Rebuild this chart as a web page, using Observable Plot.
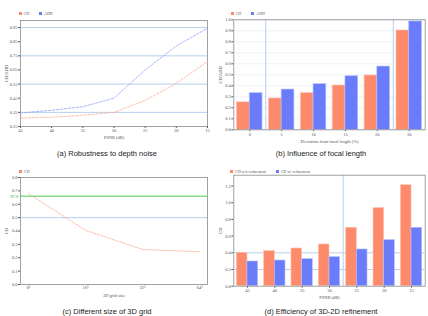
<!DOCTYPE html>
<html><head><meta charset="utf-8">
<script src="https://cdn.jsdelivr.net/npm/d3@7"></script>
<script src="https://cdn.jsdelivr.net/npm/@observablehq/plot@0.6"></script>
<style>
body{margin:0;background:#fff;}
#root{position:relative;width:428px;height:316px;overflow:hidden;background:#fff;}
.panel{position:absolute;width:214px;height:158px;}
.legend{position:absolute;display:flex;align-items:center;gap:10px;font-family:"Liberation Serif",serif;font-size:4px;color:#555;white-space:nowrap;line-height:5px;}
.item{display:flex;align-items:center;}
.sw{display:inline-block;width:3px;height:3px;margin-right:2px;}
.caption{position:absolute;left:0;width:214px;text-align:center;font-family:"Liberation Sans",Arial,sans-serif;font-size:7.5px;line-height:9px;color:#222;}
.chart{position:absolute;left:0;}
.chart svg{overflow:visible;}
</style></head><body><div id="root"></div>
<script>
// ---------- data ----------
const noisePSNR = [45, 40, 35, 30, 25, 20, 15];
const noiseCD   = [0.31, 0.315, 0.33, 0.35, 0.435, 0.555, 0.71];
const noiseADD  = [0.345, 0.365, 0.39, 0.45, 0.65, 0.82, 0.945];
const noiseYTicks = [0.25, 0.35, 0.45, 0.55, 0.65, 0.75, 0.85, 0.95];
const noiseYGrid  = [0.35, 0.55, 0.75, 0.95];

const focalDev = ["0", "5", "10", "15", "20", "30"];
const focalCD  = [0.25, 0.285, 0.333, 0.403, 0.494, 0.903];
const focalADD = [0.333, 0.366, 0.415, 0.487, 0.575, 0.985];
const focalYTicks = [0, 0.1, 0.2, 0.3, 0.4, 0.5, 0.6, 0.7, 0.8, 0.9, 1.0];
const focalSplits = [0.5, 4.5];

const gridSize = ["8³", "16³", "32³", "64³"];
const gridCD   = [0.68, 0.405, 0.262, 0.245];
const gridYTicks = [0, 0.1, 0.2, 0.3, 0.4, 0.5, 0.6, 0.7, 0.8];
const pcsLevel = [0.66];
const pcsLabel = ["PCS"];
const gridBlue = [0.5];

const refinePSNR = ["45", "40", "35", "30", "25", "20", "15"];
const refineWithout = [0.40, 0.42, 0.452, 0.50, 0.70, 0.936, 1.21];
const refineWith    = [0.296, 0.308, 0.324, 0.348, 0.44, 0.552, 0.70];
const refineYTicks = [0, 0.2, 0.4, 0.6, 0.8, 1.0, 1.2];
const refineGrid = [0.2, 0.4];
const refineSplit = [3.5];

// ---------- styles ----------
const ORANGE = "#fd8a6b", BLUE = "#6b7cfb";
const ORANGE_L = "#ffa58a", BLUE_L = "#8c9aff";
const GRID = "#b5d0f0", FRAME = "#8a8a8a";
const axisStyle = {fontSize: "4.5px", fontFamily: "Liberation Serif, serif", color: "#555", background: "none"};

const root = document.getElementById("root");
function panel(left, top, legendItems, legendPos, chart, svgTop, caption) {
  const p = document.createElement("div");
  p.className = "panel"; p.style.left = left + "px"; p.style.top = top + "px";
  const lg = document.createElement("div");
  lg.className = "legend"; lg.style.left = legendPos[0] + "px"; lg.style.top = legendPos[1] + "px";
  for (const [name, color] of legendItems) {
    const it = document.createElement("span"); it.className = "item";
    const sw = document.createElement("span"); sw.className = "sw"; sw.style.background = color;
    it.appendChild(sw); it.appendChild(document.createTextNode(name)); lg.appendChild(it);
  }
  p.appendChild(lg);
  const c = document.createElement("div"); c.className = "chart"; c.style.top = svgTop + "px";
  c.appendChild(chart); p.appendChild(c);
  const cap = document.createElement("div"); cap.className = "caption"; cap.style.top = "148.5px";
  cap.textContent = caption; p.appendChild(cap);
  root.appendChild(p);
}

// (a)
const noiseData = noisePSNR.flatMap((x, i) => [
  {psnr: x, series: "CD", value: noiseCD[i]},
  {psnr: x, series: "ADD", value: noiseADD[i]}
]);
const chartA = Plot.plot({
  width: 214, height: 132, marginLeft: 20, marginRight: 7, marginTop: 6, marginBottom: 20,
  style: axisStyle,
  x: {domain: [45, 15], ticks: noisePSNR, tickSize: 2, tickPadding: 0.5, label: "PSNR (dB)", labelAnchor: "center", labelOffset: 12.3, labelArrow: "none"},
  y: {domain: [0.25, 1.0], ticks: noiseYTicks, tickFormat: ".2f", tickSize: 2, tickPadding: 1, label: "CD/ADD", labelAnchor: "center", labelOffset: 15.5, labelArrow: "none"},
  color: {domain: ["CD", "ADD"], range: [ORANGE_L, BLUE_L]},
  marks: [
    Plot.ruleY(noiseYGrid, {stroke: GRID, strokeWidth: 1}),
    Plot.frame({stroke: FRAME, strokeWidth: 0.8}),
    Plot.line(noiseData, {x: "psnr", y: "value", z: "series", stroke: "series", strokeWidth: 0.9, strokeDasharray: "2.5,1.5", strokeOpacity: 0.8})
  ]
});
panel(0, 0, [["CD", ORANGE], ["ADD", BLUE]], [18.5, 11], chartA, 14, "(a) Robustness to depth noise");

// (b)
const focalData = focalDev.flatMap((d, i) => [
  {i, series: "CD", value: focalCD[i]},
  {i, series: "ADD", value: focalADD[i]}
]);
const chartB = Plot.plot({
  width: 214, height: 132, marginLeft: 19.3, marginRight: 3.3, marginTop: 5.3, marginBottom: 16.7,
  style: axisStyle,
  x: {domain: [-0.5, focalDev.length - 0.5], ticks: focalDev.map((d, i) => i), tickFormat: i => focalDev[i], tickSize: 2, tickPadding: 0.5, label: "Deviation from focal length (%)", labelAnchor: "center", labelOffset: 12.7, labelArrow: "none"},
  y: {domain: [0, 1.0], ticks: focalYTicks, tickFormat: ".1f", tickSize: 2, tickPadding: 1, label: "CD/ADD", labelAnchor: "center", labelOffset: 14.8, labelArrow: "none"},
  color: {domain: ["CD", "ADD"], range: [ORANGE, BLUE]},
  marks: [
    Plot.ruleY(focalYTicks, {stroke: "#e2e8f0", strokeWidth: 0.6}),
    Plot.ruleX(focalSplits, {stroke: GRID, strokeWidth: 1}),
    Plot.rectY(focalData, {x1: d => d.series === "CD" ? d.i - 0.4 : d.i, x2: d => d.series === "CD" ? d.i : d.i + 0.4, y: "value", fill: "series", stroke: d => d.series === "CD" ? "#ffc4b3" : "#b5beff", strokeWidth: 0.6}),
    Plot.frame({stroke: FRAME, strokeWidth: 0.8})
  ]
});
panel(214, 0, [["CD", ORANGE], ["ADD", BLUE]], [16.7, 11], chartB, 14, "(b) Influence of focal length");

// (c)
const gridData = gridSize.map((g, i) => ({size: g, value: gridCD[i]}));
const chartC = Plot.plot({
  width: 214, height: 130, marginLeft: 20, marginRight: 7, marginTop: 5, marginBottom: 18,
  style: axisStyle,
  x: {type: "point", domain: gridSize, padding: 0.118, tickSize: 0, tickPadding: 1.5, label: "3D grid size", labelAnchor: "center", labelOffset: 12.3, labelArrow: "none"},
  y: {domain: [0, 0.8], ticks: gridYTicks, tickFormat: ".1f", tickSize: 2, tickPadding: 1, label: "CD", labelAnchor: "center", labelOffset: 16, labelArrow: "none"},
  marks: [
    Plot.ruleY(gridBlue, {stroke: GRID, strokeWidth: 1}),
    Plot.ruleY(pcsLevel, {stroke: "#86d986", strokeWidth: 1.6}),
    Plot.text(pcsLevel, {y: d => d, text: () => pcsLabel[0], frameAnchor: "left", textAnchor: "end", dx: -2, fill: "#3fae3f", fontSize: 4.5}),
    Plot.frame({stroke: FRAME, strokeWidth: 0.8}),
    Plot.line(gridData, {x: "size", y: "value", stroke: ORANGE_L, strokeWidth: 0.9, strokeDasharray: "2.5,1.5", strokeOpacity: 0.8})
  ]
});
panel(0, 158, [["CD", ORANGE]], [19, 11], chartC, 14, "(c) Different size of 3D grid");

// (d)
const refineData = refinePSNR.flatMap((d, i) => [
  {i, series: "CD w/o refinement", value: refineWithout[i]},
  {i, series: "CD w/ refinement", value: refineWith[i]}
]);
const chartD = Plot.plot({
  width: 214, height: 130, marginLeft: 19.3, marginRight: 3.3, marginTop: 2.7, marginBottom: 16.3,
  style: axisStyle,
  x: {domain: [-0.5, refinePSNR.length - 0.5], ticks: refinePSNR.map((d, i) => i), tickFormat: i => refinePSNR[i], tickSize: 2, tickPadding: 0.5, label: "PSNR (dB)", labelAnchor: "center", labelOffset: 12.6, labelArrow: "none"},
  y: {domain: [0, 1.33], ticks: refineYTicks, tickFormat: ".1f", tickSize: 2, tickPadding: 1, label: "CD", labelAnchor: "center", labelOffset: 15, labelArrow: "none"},
  color: {domain: ["CD w/o refinement", "CD w/ refinement"], range: [ORANGE, BLUE]},
  marks: [
    Plot.ruleY(refineGrid, {stroke: GRID, strokeWidth: 1}),
    Plot.ruleX(refineSplit, {stroke: GRID, strokeWidth: 1}),
    Plot.rectY(refineData, {x1: d => d.series === "CD w/o refinement" ? d.i - 0.39 : d.i, x2: d => d.series === "CD w/o refinement" ? d.i : d.i + 0.39, y: "value", fill: "series", stroke: d => d.series === "CD w/o refinement" ? "#ffc4b3" : "#b5beff", strokeWidth: 0.6}),
    Plot.frame({stroke: FRAME, strokeWidth: 0.8})
  ]
});
panel(214, 158, [["CD w/o refinement", ORANGE], ["CD w/ refinement", BLUE]], [16, 11], chartD, 14, "(d) Efficiency of 3D-2D refinement");
</script></body></html>
